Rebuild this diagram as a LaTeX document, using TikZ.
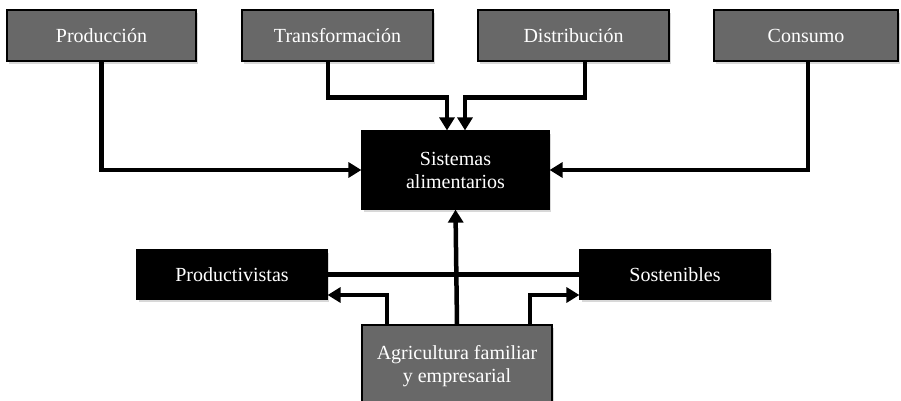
\documentclass[tikz,border=0pt]{standalone}
\usepackage{fontspec}
\setmainfont{Liberation Serif}
\usetikzlibrary{shadows,arrows.meta,calc}
\definecolor{boxgray}{HTML}{686868}
\begin{document}
\begin{tikzpicture}[x=1pt,y=-1pt,
  box/.style={draw=black, line width=1.2pt, text=white, align=center,
    font=\fontsize{20}{23}\selectfont, inner sep=0pt,
    drop shadow={opacity=0.3, shadow xshift=2pt, shadow yshift=-3pt}},
  graybox/.style={box, fill=boxgray},
  blackbox/.style={box, fill=black},
  conn/.style={line width=4.5pt, draw=black},
  arr/.style={conn, -{Triangle[length=13pt,width=15pt]}}]
\useasboundingbox (0,0) rectangle (901,401);
\fill[white] (0,0) rectangle (901,401);
\node[graybox, minimum width=189pt, minimum height=51pt] (prod) at (101.5,35.5) {Producción};
\node[graybox, minimum width=191pt, minimum height=51pt] (trans) at (337.5,35.5) {Transformación};
\node[graybox, minimum width=191pt, minimum height=51pt] (dist) at (573.5,35.5) {Distribución};
\node[graybox, minimum width=184pt, minimum height=51pt] (cons) at (806,35.5) {Consumo};
\node[blackbox, minimum width=187pt, minimum height=78pt] (sis) at (455.5,170) {Sistemas\\alimentarios};
\node[blackbox, minimum width=190pt, minimum height=49pt] (pv) at (232,274.5) {Productivistas};
\node[blackbox, minimum width=190pt, minimum height=49pt] (sost) at (675,274.5) {Sostenibles};
\node[graybox, minimum width=190pt, minimum height=82pt] (agri) at (457,366) {Agricultura familiar\\y empresarial};
% top connectors
\draw[arr] (prod.south) |- (sis.west);
\draw[arr] ([xshift=-9.5pt]trans.south) -- ++(0,36) -| ([xshift=-8.5pt]sis.north);
\draw[arr] ([xshift=11.5pt]dist.south) -- ++(0,36) -| ([xshift=9.5pt]sis.north);
\draw[arr] ([xshift=2pt]cons.south) |- (sis.east);
% bottom connectors
\draw[conn] (pv.east) -- (sost.west);
\draw[arr] (agri.north) -- (sis.south);
\draw[arr] ([xshift=-70pt]agri.north) |- ([yshift=-20.5pt]pv.east);
\draw[arr] ([xshift=73pt]agri.north) |- ([yshift=-20.5pt]sost.west);
\end{tikzpicture}
\end{document}
